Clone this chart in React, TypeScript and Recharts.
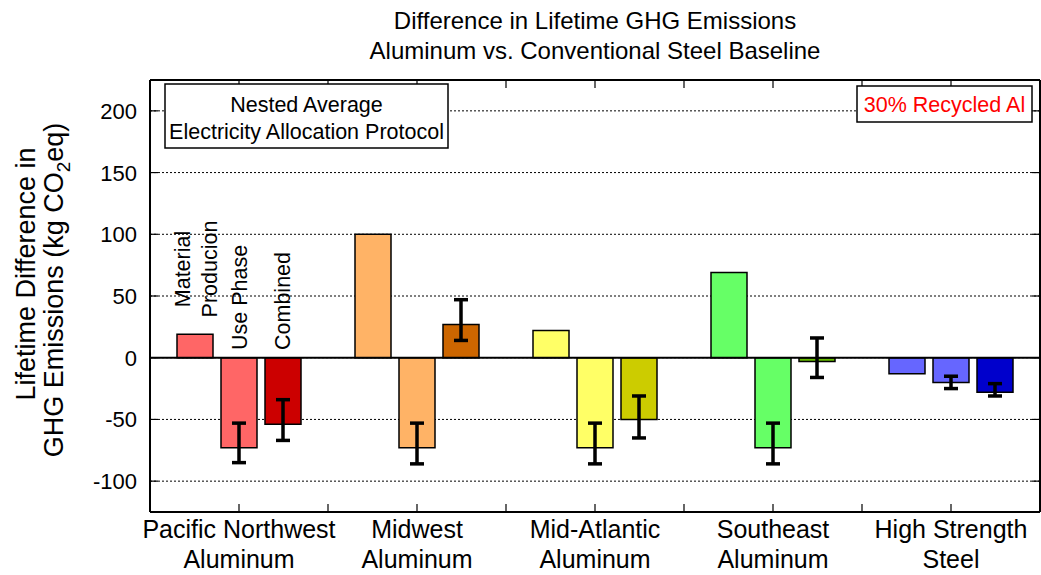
import {
  ComposedChart,
  Bar,
  Cell,
  ErrorBar,
  XAxis,
  YAxis,
  CartesianGrid,
  ReferenceLine,
} from "recharts";

const regionTop = ["Pacific Northwest", "Midwest", "Mid-Atlantic", "Southeast", "High Strength"];
const regionBottom = ["Aluminum", "Aluminum", "Aluminum", "Aluminum", "Steel"];

// kg CO2eq
const material = [19, 100, 22, 69, -13];
const usePhase = [-73, -73, -73, -73, -20];
const usePhaseLow = [-85, -86, -86, -86, -25];
const usePhaseHigh = [-53, -53, -53, -53, -15];
const combined = [-54, 27, -50, -3, -28];
const combinedLow = [-67, 14, -65, -16, -31];
const combinedHigh = [-34, 47, -31, 16, -21];

const lightColors = ["#ff6666", "#ffb366", "#ffff66", "#66ff66", "#6666ff"];
const darkColors = ["#cc0000", "#cc6600", "#cccc00", "#66bb00", "#0000cc"];

const yTicks = [-100, -50, 0, 50, 100, 150, 200];

const data = regionTop.map((region, i) => ({
  region,
  material: material[i],
  usePhase: usePhase[i],
  useErr: [usePhase[i] - usePhaseLow[i], usePhaseHigh[i] - usePhase[i]],
  combined: combined[i],
  combErr: [combined[i] - combinedLow[i], combinedHigh[i] - combined[i]],
}));

const W = 1041;
const H = 575;
const PLOT_LEFT = 150;
const PLOT_RIGHT = 1040;
const HALF_BAND = (PLOT_RIGHT - PLOT_LEFT) / regionTop.length / 2;
const FONT = "'Liberation Sans', Arial, Helvetica, sans-serif";
const TICK = 8;

function BottomTick(props: any) {
  const { x, y, index } = props;
  return (
    <g>
      <line x1={x} x2={x} y1={y} y2={y - TICK} stroke="#000" strokeWidth={1.2} />
      {index < regionTop.length - 1 && (
        <line x1={x + HALF_BAND} x2={x + HALF_BAND} y1={y} y2={y - TICK} stroke="#000" strokeWidth={1.2} />
      )}
      <text x={x} y={y + 26} textAnchor="middle" fontSize={25} fill="#000">
        {regionTop[index]}
      </text>
      <text x={x} y={y + 56} textAnchor="middle" fontSize={25} fill="#000">
        {regionBottom[index]}
      </text>
    </g>
  );
}

function TopTick(props: any) {
  const { x, y, index } = props;
  return (
    <g>
      <line x1={x} x2={x} y1={y} y2={y + TICK} stroke="#000" strokeWidth={1.2} />
      {index < regionTop.length - 1 && (
        <line x1={x + HALF_BAND} x2={x + HALF_BAND} y1={y} y2={y + TICK} stroke="#000" strokeWidth={1.2} />
      )}
    </g>
  );
}

function LeftTick(props: any) {
  const { x, y, payload } = props;
  return (
    <g>
      <line x1={x + 13} x2={x + 13 + TICK} y1={y} y2={y} stroke="#000" strokeWidth={1.2} />
      <text x={x} y={y + 8} textAnchor="end" fontSize={22} fill="#000">
        {payload.value}
      </text>
    </g>
  );
}

function RightTick(props: any) {
  const { x, y } = props;
  return <line x1={x} x2={x - TICK} y1={y} y2={y} stroke="#000" strokeWidth={1.2} />;
}

export default function App() {
  return (
    <div style={{ position: "absolute", left: 0, top: 0, width: W, height: H, background: "#fff", fontFamily: FONT }}>
      <ComposedChart
        width={W}
        height={H}
        data={data}
        margin={{ top: 79, right: 0, bottom: 0, left: 0 }}
        barSize={36}
        barGap={8}
        style={{ fontFamily: FONT }}
      >
        <CartesianGrid
          xAxisId="bottom"
          yAxisId="left"
          vertical={false}
          stroke="#000"
          strokeDasharray="2 2"
          strokeWidth={1}
        />
        <XAxis
          xAxisId="bottom"
          dataKey="region"
          orientation="bottom"
          height={63}
          interval={0}
          tickSize={0}
          tickMargin={0}
          tickLine={false}
          tick={<BottomTick />}
          axisLine={{ stroke: "#000", strokeWidth: 2 }}
        />
        <XAxis
          xAxisId="top"
          dataKey="region"
          orientation="top"
          height={1}
          interval={0}
          tickSize={0}
          tickMargin={0}
          tickLine={false}
          tick={<TopTick />}
          axisLine={{ stroke: "#000", strokeWidth: 2 }}
        />
        <YAxis
          yAxisId="left"
          orientation="left"
          width={150}
          domain={[-125, 225]}
          ticks={yTicks}
          allowDataOverflow
          interval={0}
          tickSize={0}
          tickMargin={13}
          tickLine={false}
          tick={<LeftTick />}
          axisLine={{ stroke: "#000", strokeWidth: 2 }}
        />
        <YAxis
          yAxisId="right"
          orientation="right"
          width={1}
          domain={[-125, 225]}
          ticks={yTicks}
          allowDataOverflow
          interval={0}
          tickSize={0}
          tickMargin={0}
          tickLine={false}
          tick={<RightTick />}
          axisLine={{ stroke: "#000", strokeWidth: 2 }}
        />
        <ReferenceLine xAxisId="bottom" yAxisId="left" y={0} stroke="#000" strokeWidth={2} />
        <Bar xAxisId="bottom" yAxisId="left" dataKey="material" stroke="#000" strokeWidth={1.5} isAnimationActive={false}>
          {data.map((d, i) => (
            <Cell key={d.region} fill={lightColors[i]} />
          ))}
        </Bar>
        <Bar xAxisId="bottom" yAxisId="left" dataKey="usePhase" stroke="#000" strokeWidth={1.5} isAnimationActive={false}>
          {data.map((d, i) => (
            <Cell key={d.region} fill={lightColors[i]} />
          ))}
          <ErrorBar dataKey="useErr" width={7} stroke="#000" strokeWidth={3.5} isAnimationActive={false} />
        </Bar>
        <Bar xAxisId="bottom" yAxisId="left" dataKey="combined" stroke="#000" strokeWidth={1.5} isAnimationActive={false}>
          {data.map((d, i) => (
            <Cell key={d.region} fill={darkColors[i]} />
          ))}
          <ErrorBar dataKey="combErr" width={7} stroke="#000" strokeWidth={3.5} isAnimationActive={false} />
        </Bar>
      </ComposedChart>

      <svg
        width={W}
        height={H}
        style={{ position: "absolute", left: 0, top: 0, pointerEvents: "none", fontFamily: FONT }}
      >
        <text x={595} y={29} textAnchor="middle" fontSize={24}>
          Difference in Lifetime GHG Emissions
        </text>
        <text x={595} y={59} textAnchor="middle" fontSize={24}>
          Aluminum vs. Conventional Steel Baseline
        </text>

        <text transform="translate(35,274) rotate(-90)" textAnchor="middle" fontSize={27}>
          Lifetime Difference in
        </text>
        <text transform="translate(63,290) rotate(-90)" textAnchor="middle" fontSize={27}>
          GHG Emissions (kg CO
          <tspan fontSize={19} dy={7}>2</tspan>
          <tspan dy={-7}>eq)</tspan>
        </text>

        <rect x={165} y={84} width={283} height={64} fill="#fff" stroke="#000" strokeWidth={1.5} />
        <text x={306.5} y={112} textAnchor="middle" fontSize={21.5}>
          Nested Average
        </text>
        <text x={306.5} y={139} textAnchor="middle" fontSize={21.5}>
          Electricity Allocation Protocol
        </text>

        <rect x={857} y={86} width={175} height={36} fill="#fff" stroke="#000" strokeWidth={1.5} />
        <text x={944.5} y={112} textAnchor="middle" fontSize={21.5} fill="#ff0000">
          30% Recycled Al
        </text>

        <text transform="translate(190,269) rotate(-90)" textAnchor="middle" fontSize={21.5}>
          Material
        </text>
        <text transform="translate(217,269) rotate(-90)" textAnchor="middle" fontSize={21.5}>
          Producion
        </text>
        <text transform="translate(247,350) rotate(-90)" textAnchor="start" fontSize={21.5}>
          Use Phase
        </text>
        <text transform="translate(290,350) rotate(-90)" textAnchor="start" fontSize={21.5}>
          Combined
        </text>
      </svg>
    </div>
  );
}
